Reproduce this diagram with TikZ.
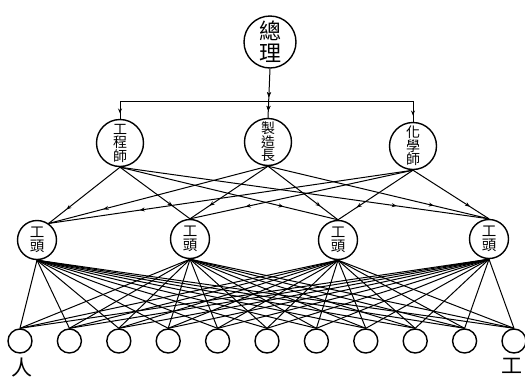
\documentclass[tikz,border=0pt]{standalone}
\usepackage{fontspec}
\newfontfamily\cjk{Noto Sans CJK TC}
\usetikzlibrary{arrows.meta,decorations.markings}
\begin{document}
\begin{tikzpicture}[x=1pt,y=-1pt,
  circ/.style={draw,circle,inner sep=0pt,line width=1.4pt},
  topbox/.style={circ,minimum size=52pt,align=center,font=\cjk\fontsize{22}{22}\selectfont},
  midbox/.style={circ,minimum size=47pt,align=center,font=\cjk\fontsize{14}{13.5}\selectfont},
  headbox/.style={circ,minimum size=39pt,align=center,font=\cjk\fontsize{14.5}{14}\selectfont},
  workbox/.style={circ,minimum size=24pt},
  wire/.style={line width=1pt},
  arrowat/.style={postaction={decorate},decoration={markings,mark=at position #1 with {\arrow{Stealth[length=5pt,width=4pt]}}}},
  lbl/.style={font=\cjk\fontsize{21}{21}\selectfont,inner sep=0pt}
]
\useasboundingbox (0,0) rectangle (525,381);

\node[topbox] (zl) at (270,42) {總\\理};
\node[midbox] (m1) at (120,143) {工\\程\\師};
\node[midbox] (m2) at (268,142) {製\\造\\長};
\node[midbox] (m3) at (413,146) {化\\學\\師};

\node[headbox] (g1) at (37,240) {工\\頭};
\node[headbox] (g2) at (190,239) {工\\頭};
\node[headbox] (g3) at (338,240) {工\\頭};
\node[headbox] (g4) at (489,239) {工\\頭};

\foreach \i in {1,...,11}{
  \node[workbox] (w\i) at ({20+49.4*(\i-1)},341) {};
}

\node[lbl] (ren) at (22,368) {人};
\node[lbl] (gong) at (512,366) {工};

% top distribution
\coordinate (jl) at (m1.north |- 0,101);
\coordinate (jr) at (m3.north |- 0,101);
\draw[wire] (jl) -- (jr);
\draw[wire,arrowat=0.58,arrowat=0.86] (zl.south) -- (m2.north);
\draw[wire,arrowat=0.7] (jl) -- (m1.north);
\draw[wire,arrowat=0.7] (jr) -- (m3.north);

% managers to foremen
\foreach \m in {1,2,3}{
  \draw[wire,arrowat=0.75] (m\m.south) -- (g1.55);
  \foreach \g in {2,3,4}{
    \draw[wire,arrowat=0.75] (m\m.south) -- (g\g.north);
  }
}

% foremen to workers
\foreach \g in {1,...,4}{
  \foreach \w in {1,...,11}{
    \draw[wire] (g\g.south) -- (w\w.north);
  }
}
\end{tikzpicture}
\end{document}
